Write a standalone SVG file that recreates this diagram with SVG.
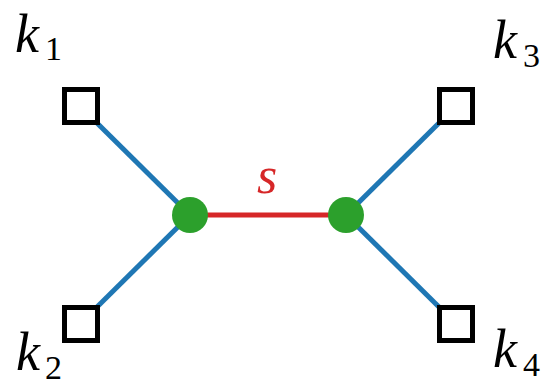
<svg xmlns="http://www.w3.org/2000/svg" width="547" height="382" viewBox="0 0 547 382">
<style>
.edge{stroke:#1f77b4;stroke-width:5;fill:none}
.red{stroke:#d62728;stroke-width:5;fill:none}
.sq{fill:#fff;stroke:#000;stroke-width:5}
.dot{fill:#2ca02c}
.m{font-style:italic;font-size:54px;fill:#000}
.sub{font-size:34px;fill:#000}
.s{font-style:italic;font-size:52px;fill:#d62728}
</style>
<rect width="547" height="382" fill="#fff"/>
<g id="connectors">
<line class="edge" x1="97" y1="123" x2="190" y2="215"/>
<line class="edge" x1="97" y1="307" x2="190" y2="215"/>
<line class="edge" x1="439" y1="123" x2="346" y2="215"/>
<line class="edge" x1="439" y1="307" x2="346" y2="215"/>
<line class="red" x1="190" y1="215" x2="346" y2="215"/>
<text class="s" font-family="Liberation Serif, serif" x="257" y="193">s</text>
</g>
<g id="k1" font-family="Liberation Serif, serif"><rect class="sq" x="64.5" y="89.5" width="33" height="33"/><text class="m" x="15" y="52">k</text><text class="sub" x="45" y="60">1</text></g>
<g id="k2" font-family="Liberation Serif, serif"><rect class="sq" x="64.5" y="307.5" width="33" height="33"/><text class="m" x="16" y="370">k</text><text class="sub" x="45" y="379">2</text></g>
<g id="k3" font-family="Liberation Serif, serif"><rect class="sq" x="439.5" y="89.5" width="33" height="33"/><text class="m" x="493" y="58">k</text><text class="sub" x="523" y="67">3</text></g>
<g id="k4" font-family="Liberation Serif, serif"><rect class="sq" x="439.5" y="307.5" width="33" height="33"/><text class="m" x="493" y="367">k</text><text class="sub" x="523" y="376">4</text></g>
<g id="s1"><circle class="dot" cx="190" cy="215" r="18"/></g>
<g id="s2"><circle class="dot" cx="346" cy="215" r="18"/></g>
</svg>
